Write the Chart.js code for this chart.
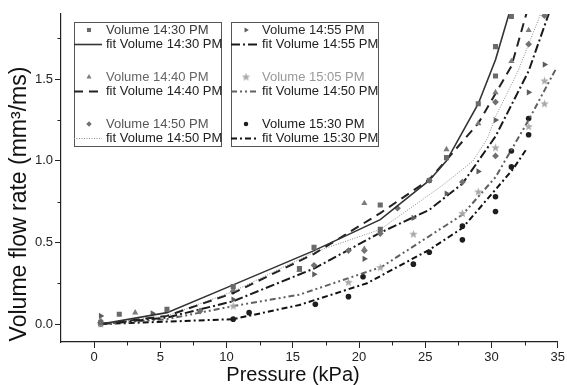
<!DOCTYPE html>
<html>
<head>
<meta charset="utf-8">
<script src="https://cdn.jsdelivr.net/npm/chart.js@4.4.3/dist/chart.umd.min.js"></script>
<style>
  html, body { margin: 0; padding: 0; background: #fff; }
</style>
</head>
<body>
<canvas id="chart" width="567" height="385"></canvas>
<script>
const v1430X = [0.5, 1.9, 5.5, 10.5, 15.5, 16.6, 21.6, 21.6, 25.3, 26.6, 29.0, 30.3, 30.3, 31.5];
const v1430Y = [0.01, 0.06, 0.09, 0.23, 0.34, 0.47, 0.58, 0.73, 0.88, 1.02, 1.35, 1.52, 1.70, 1.885];
const v1440X = [0.5, 3.1, 10.5, 15.5, 20.4, 20.4, 26.6, 29.0, 30.3, 31.5, 32.8];
const v1440Y = [0.02, 0.07, 0.21, 0.33, 0.74, 0.46, 1.07, 1.23, 1.42, 1.61, 1.80];
const v1450X = [0.5, 8.0, 10.5, 16.6, 19.2, 20.4, 21.6, 22.9, 25.3, 27.8, 30.3, 30.3, 32.8, 34.0];
const v1450Y = [0.01, 0.08, 0.2, 0.36, 0.45, 0.45, 0.555, 0.71, 0.88, 0.87, 1.03, 1.36, 1.715, 1.89];
const v1455X = [0.5, 4.4, 10.5, 16.6, 20.4, 24.1, 26.6, 29.0, 30.3, 32.8, 34.0];
const v1455Y = [0.05, 0.066, 0.15, 0.305, 0.40, 0.65, 0.80, 0.935, 1.25, 1.42, 1.59];
const v1505X = [0.5, 10.5, 19.2, 21.6, 24.1, 27.8, 29.0, 30.3, 32.8, 34.0, 34.0];
const v1505Y = [0.0, 0.11, 0.256, 0.346, 0.551, 0.678, 0.81, 1.08, 1.21, 1.35, 1.49];
const v1530X = [0.5, 10.5, 11.7, 16.7, 19.2, 20.3, 24.1, 25.3, 27.8, 27.8, 30.3, 30.3, 31.5, 31.5, 32.8, 32.8];
const v1530Y = [0.0, 0.03, 0.07, 0.121, 0.168, 0.29, 0.367, 0.44, 0.516, 0.60, 0.69, 0.78, 0.963, 1.06, 1.16, 1.26];

// fitted curves
const fit1430X = [0.5, 5.5, 10.5, 16.6, 21.6, 25.3, 26.6, 29.0, 30.3, 31.5, 32.0];
const fit1430Y = [0.0, 0.07, 0.24, 0.45, 0.64, 0.88, 1.0, 1.35, 1.62, 1.95, 2.1];
const fit1440X = [0.5, 5.5, 10.5, 16.6, 21.6, 25.3, 29.0, 31.5, 32.8, 33.2];
const fit1440Y = [0.0, 0.05, 0.19, 0.43, 0.68, 0.885, 1.23, 1.58, 1.95, 2.1];
const fit1450X = [0.5, 5.5, 10.5, 16.6, 21.6, 26.3, 28.6, 29.7, 30.3, 32.0, 33.7, 34.2];
const fit1450Y = [0.0, 0.05, 0.2, 0.44, 0.58, 0.85, 1.0, 1.14, 1.27, 1.55, 1.9, 2.0];
const fit1455X = [0.5, 5.5, 10.5, 16.6, 21.6, 25.3, 27.8, 30.3, 32.8, 34.4];
const fit1455Y = [0.0, 0.04, 0.14, 0.34, 0.56, 0.70, 0.86, 1.15, 1.55, 1.92];
const fit1505X = [0.5, 5.5, 10.5, 15.5, 21.7, 27.8, 30.3, 32.8, 34.9];
const fit1505Y = [0.0, 0.03, 0.11, 0.18, 0.35, 0.67, 0.9, 1.25, 1.57];
const fit1530X = [0.5, 5.5, 10.5, 15.5, 20.6, 25.3, 27.8, 31.6, 32.7];
const fit1530Y = [0.0, 0.015, 0.03, 0.117, 0.25, 0.455, 0.588, 0.947, 1.08];

const xTicks = [0, 5, 10, 15, 20, 25, 30, 35];
const xMinorTicks = [2.5, 7.5, 12.5, 17.5, 22.5, 27.5, 32.5];
const yTicks = [0.0, 0.5, 1.0, 1.5];
const yMinorTicks = [0.25, 0.75, 1.25, 1.75];

const xTitle = 'Pressure (kPa)';
const yTitle = 'Volume flow rate (mm³/ms)';

const legendLabels = [
    ['Volume 14:30 PM', 'fit Volume 14:30 PM', 'Volume 14:40 PM', 'fit Volume 14:40 PM', 'Volume 14:50 PM', 'fit Volume 14:50 PM'],
    ['Volume 14:55 PM', 'fit Volume 14:55 PM', 'Volume 15:05 PM', 'fit Volume 14:50 PM', 'Volume 15:30 PM', 'fit Volume 15:30 PM']
];

const FONT = '"Liberation Sans", Arial, sans-serif';

function pairs(xs, ys) {
    return xs.map((x, i) => ({ x: x, y: ys[i] }));
}

function makeStar(color) {
    const c = document.createElement('canvas');
    c.width = 9; c.height = 9;
    const g = c.getContext('2d');
    g.fillStyle = color;
    g.beginPath();
    for (let i = 0; i < 10; i++) {
        const r = i % 2 === 0 ? 4.4 : 1.9;
        const a = -Math.PI / 2 + i * Math.PI / 5;
        const px = 4.5 + r * Math.cos(a), py = 4.7 + r * Math.sin(a);
        if (i === 0) g.moveTo(px, py); else g.lineTo(px, py);
    }
    g.closePath();
    g.fill();
    return c;
}
const starImg = makeStar('#a8a8a8');

function scatterSet(label, xs, ys, color, style, radius, rotation, textColor) {
    return {
        label: label, data: pairs(xs, ys), showLine: false,
        pointStyle: style, pointRadius: radius, pointRotation: rotation || 0,
        backgroundColor: color, borderColor: color, pointBorderWidth: 0,
        textColor: textColor
    };
}
function fitSet(label, xs, ys, color, dash, width) {
    return {
        label: label, data: pairs(xs, ys), showLine: true, pointRadius: 0,
        borderColor: color, backgroundColor: color, borderWidth: width, borderDash: dash,
        textColor: '#222'
    };
}

const datasets = [
    scatterSet('Volume 14:30 PM', v1430X, v1430Y, '#6a6a6a', 'rect', 3.6, 0, '#3a3a3a'),
    fitSet('fit Volume 14:30 PM', fit1430X, fit1430Y, '#333', [], 1.6),
    scatterSet('Volume 14:40 PM', v1440X, v1440Y, '#7c7c7c', 'triangle', 3.6, 0, '#666'),
    fitSet('fit Volume 14:40 PM', fit1440X, fit1440Y, '#222', [9, 6], 2),
    scatterSet('Volume 14:50 PM', v1450X, v1450Y, '#707070', 'rectRot', 3.4, 0, '#555'),
    fitSet('fit Volume 14:50 PM', fit1450X, fit1450Y, '#8a8a8a', [1, 1.5], 1),
    scatterSet('Volume 14:55 PM', v1455X, v1455Y, '#5c5c5c', 'triangle', 3.6, 90, '#2a2a2a'),
    fitSet('fit Volume 14:55 PM', fit1455X, fit1455Y, '#1a1a1a', [9, 3, 2, 3], 2),
    scatterSet('Volume 15:05 PM', v1505X, v1505Y, '#a8a8a8', starImg, 4.5, 0, '#999'),
    fitSet('fit Volume 14:50 PM', fit1505X, fit1505Y, '#606060', [6, 3, 2, 3, 2, 3], 2),
    scatterSet('Volume 15:30 PM', v1530X, v1530Y, '#1e1e1e', 'circle', 2.8, 0, '#1a1a1a'),
    fitSet('fit Volume 15:30 PM', fit1530X, fit1530Y, '#111', [6, 3, 2, 3], 2)
];

// two boxed legends inside the plot, drawn by hand
const boxLegend = {
    id: 'boxLegend',
    afterDraw(chart) {
        const ctx = chart.ctx;
        const boxes = [{ left: 74, right: 221 }, { left: 231, right: 378 }];
        const rows = [30, 44, 77, 91, 124, 138];
        ctx.save();
        boxes.forEach((b, bi) => {
            ctx.fillStyle = '#fff';
            ctx.fillRect(b.left, 22.5, b.right - b.left, 124);
            ctx.strokeStyle = '#555';
            ctx.lineWidth = 1;
            ctx.setLineDash([]);
            ctx.strokeRect(b.left + 0.5, 22.5, b.right - b.left, 124);
            legendLabels[bi].forEach((text, ri) => {
                const ds = chart.data.datasets[bi * 6 + ri];
                const y = rows[ri];
                if (ds.showLine) {
                    ctx.strokeStyle = ds.borderColor;
                    ctx.lineWidth = ds.borderWidth;
                    ctx.setLineDash(ds.borderDash);
                    ctx.beginPath();
                    ctx.moveTo(b.left, y + 0.5);
                    ctx.lineTo(b.left + 28, y + 0.5);
                    ctx.stroke();
                    ctx.setLineDash([]);
                } else {
                    ctx.fillStyle = ds.backgroundColor;
                    ctx.strokeStyle = ds.borderColor;
                    Chart.helpers.drawPoint(ctx, {
                        pointStyle: ds.pointStyle, rotation: ds.pointRotation,
                        radius: ds.pointRadius * 0.8, borderWidth: 0
                    }, b.left + 15, y);
                }
                ctx.fillStyle = ds.textColor;
                ctx.font = '13px ' + FONT;
                ctx.textBaseline = 'middle';
                ctx.textAlign = 'left';
                ctx.fillText(text, b.left + (bi === 0 ? 32 : 31), y + 0.5);
            });
        });
        ctx.restore();
    }
};

// short minor ticks and the axis titles
const axisExtras = {
    id: 'axisExtras',
    afterDraw(chart) {
        const ctx = chart.ctx;
        const xs = chart.scales.x, ys = chart.scales.y;
        ctx.save();
        ctx.strokeStyle = '#222';
        ctx.lineWidth = 1;
        ctx.beginPath();
        xMinorTicks.forEach(v => {
            const px = Math.round(xs.getPixelForValue(v)) + 0.5;
            ctx.moveTo(px, xs.top);
            ctx.lineTo(px, xs.top + 3.5);
        });
        yMinorTicks.forEach(v => {
            const py = Math.round(ys.getPixelForValue(v)) + 0.5;
            ctx.moveTo(ys.right, py);
            ctx.lineTo(ys.right - 3.5, py);
        });
        ctx.stroke();

        ctx.fillStyle = '#111';
        ctx.textAlign = 'center';
        ctx.textBaseline = 'middle';
        ctx.font = '20px ' + FONT;
        ctx.fillText(xTitle, 293, 375);
        ctx.translate(20, 204);
        ctx.rotate(-Math.PI / 2);
        ctx.font = '23px ' + FONT;
        ctx.fillText(yTitle, 0, 0);
        ctx.restore();
    }
};

new Chart(document.getElementById('chart'), {
    type: 'scatter',
    data: { datasets: datasets },
    options: {
        responsive: false,
        animation: false,
        layout: { padding: { top: 14, right: 8, left: 0, bottom: 0 } },
        plugins: { legend: { display: false }, tooltip: { enabled: false } },
        scales: {
            x: {
                type: 'linear', min: -2.5, max: 35,
                afterBuildTicks: s => { s.ticks = xTicks.map(v => ({ value: v })); },
                afterFit: s => { s.height = 43; },
                grid: { drawOnChartArea: false, tickLength: 6, color: '#222' },
                border: { color: '#222', width: 1.2 },
                ticks: { font: { size: 13, family: FONT }, color: '#222', padding: 2, maxRotation: 0 }
            },
            y: {
                type: 'linear', min: -0.11, max: 1.9,
                afterBuildTicks: s => { s.ticks = yTicks.map(v => ({ value: v })); },
                afterFit: s => { s.width = 61; },
                grid: { drawOnChartArea: false, tickLength: 6, color: '#222' },
                border: { color: '#222', width: 1.2 },
                ticks: { font: { size: 13, family: FONT }, color: '#222', padding: 2, callback: v => v.toFixed(1) }
            }
        }
    },
    plugins: [boxLegend, axisExtras]
});
</script>
</body>
</html>
